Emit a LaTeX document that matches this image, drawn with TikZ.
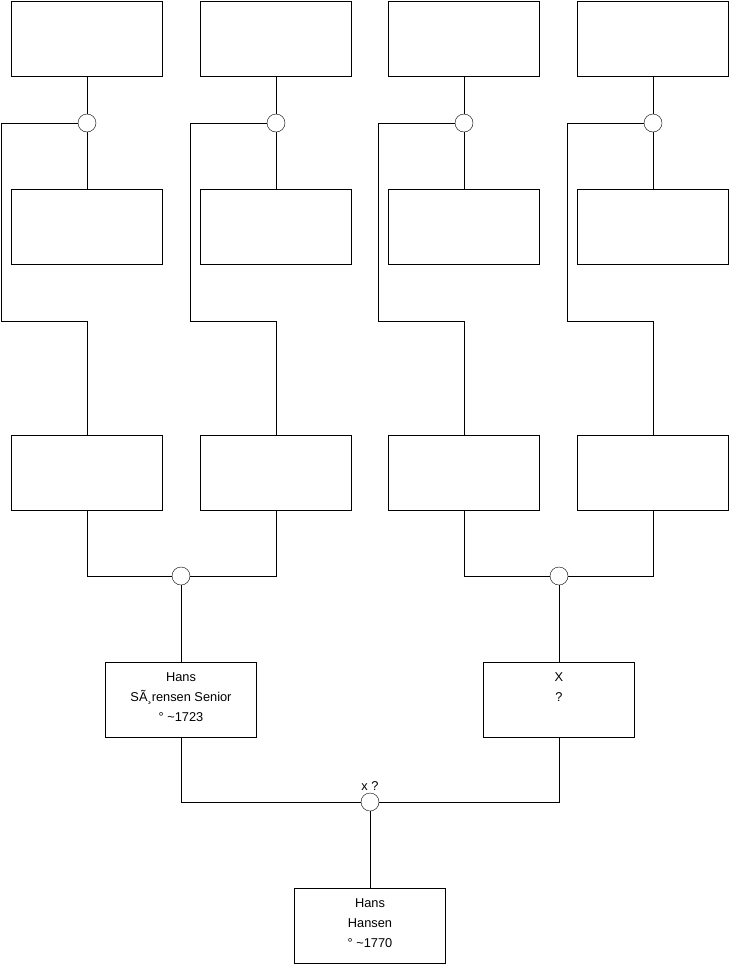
\documentclass[tikz,border=0pt]{standalone}
\usepackage{fontspec}
\setmainfont{Liberation Sans}
\begin{document}
\begin{tikzpicture}[x=1pt,y=-1pt,font=\fontsize{12.8}{20}\selectfont,
    person/.style={draw, minimum width=151, minimum height=75, inner sep=0},
    names/.style={align=center, anchor=north, yshift=-7},
    union/.style={draw, circle, minimum size=18, inner sep=0, fill=white}]
  \useasboundingbox (0,0) rectangle (740,975);
  \foreach \c/\x in {a/87,b/276,c/464,d/653} {
    \node[person] (top\c) at (\x,38.5) {};
    \node[union] (u\c) at (\x,123) {};
    \node[person] (mid\c) at (\x,227) {};
    \node[person] (low\c) at (\x,473) {};
    \coordinate (k\c) at (\x-86,321);
    \draw (top\c) -- (u\c) -- (mid\c);
    \draw (u\c.west) -| (k\c) -| (low\c.north);
  }
  \node[union] (uab) at (181,576) {};
  \node[union] (ucd) at (559,576) {};
  \node[person, label={[names]north:Hans\\SÃ¸rensen Senior\\° \textasciitilde1723}] (hs) at (181,699.5) {};
  \node[person, label={[names]north:X\\?}] (xx) at (559,699.5) {};
  \node[union, label={[inner sep=2]above:x ?}] (uhx) at (370,802) {};
  \node[person, label={[names]north:Hans\\Hansen\\° \textasciitilde1770}] (hh) at (370,926) {};
  \draw (lowa.south) |- (uab.west);
  \draw (lowb.south) |- (uab.east);
  \draw (lowc.south) |- (ucd.west);
  \draw (lowd.south) |- (ucd.east);
  \draw (uab) -- (hs);
  \draw (ucd) -- (xx);
  \draw (hs.south) |- (uhx.west);
  \draw (xx.south) |- (uhx.east);
  \draw (uhx) -- (hh);
\end{tikzpicture}
\end{document}
